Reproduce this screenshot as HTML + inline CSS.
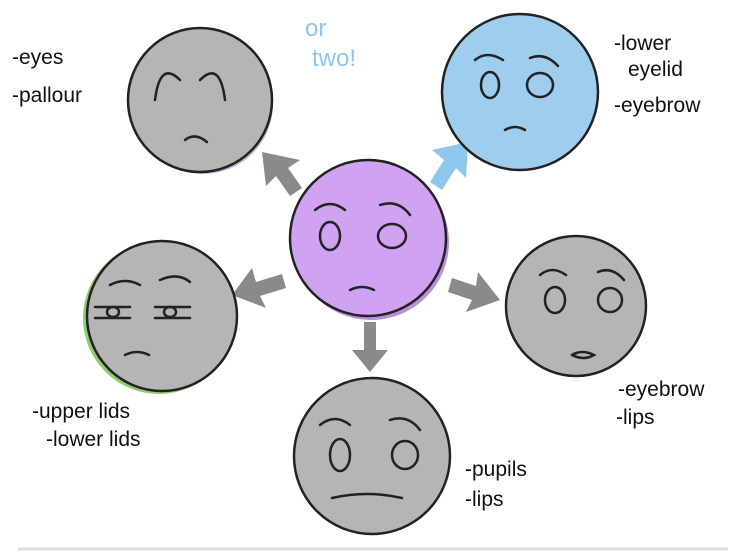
<!DOCTYPE html>
<html><head><meta charset="utf-8"><style>
html,body{margin:0;padding:0;background:#fff;width:738px;height:558px;overflow:hidden}
svg text{font-family:"Liberation Sans",sans-serif;fill:#111;font-size:21px}
</style></head><body>
<svg width="738" height="558" viewBox="0 0 738 558" xmlns="http://www.w3.org/2000/svg">
<g stroke="#222" stroke-width="2.5" fill="none" stroke-linecap="round">
<g fill="#8a8a8a" stroke="none">
<polygon points="262,152 300,160 288,168 302,188 290,196 276,176 266,186"/>
<polygon points="468,142 432,150 444,160 430,182 442,190 456,168 466,178" fill="#8ec6ec"/>
<polygon points="232,295 252,268 256,282 282,274 286,288 260,296 266,308"/>
<polygon points="500,300 478,272 476,286 452,278 448,292 472,300 466,312"/>
<polygon points="370,372 352,350 364,350 364,322 376,322 376,350 388,350"/>
</g>
<circle cx="203" cy="104" r="70" fill="#c7b0d8" stroke="none"/>
<circle cx="200" cy="100" r="72" fill="#b5b5b5"/>
<circle cx="520" cy="92" r="78" fill="#9fcdee"/>
<circle cx="371" cy="242" r="78" fill="#b890d8" stroke="none"/>
<circle cx="368" cy="238" r="78" fill="#d0a3f2"/>
<circle cx="159" cy="318" r="76" fill="#8fcc70" stroke="none"/>
<circle cx="162" cy="316" r="75" fill="#b5b5b5"/>
<circle cx="576" cy="306" r="70" fill="#b5b5b5"/>
<circle cx="372" cy="456" r="78" fill="#b5b5b5"/>
<path d="M155 100 q5-40 25-20"/><path d="M225 100 q-5-40-25-20"/>
<path d="M185 140 q10-8 22 2"/>
<ellipse cx="490" cy="85" rx="9" ry="13"/><ellipse cx="540" cy="85" rx="13" ry="12"/>
<path d="M475 60 q12-10 28 0"/><path d="M530 58 q15-6 28 8"/><path d="M505 130 q10-6 20 0"/>
<ellipse cx="330" cy="236" rx="10" ry="14"/><ellipse cx="392" cy="236" rx="14" ry="12"/>
<path d="M315 210 q15-12 30 0"/><path d="M380 205 q18-6 30 10"/><path d="M350 290 q12-6 24 0"/>
<path d="M95 307 h35"/><path d="M155 307 h35"/><path d="M95 318 h35"/><path d="M155 318 h35"/>
<ellipse cx="113" cy="312" rx="6" ry="5"/><ellipse cx="170" cy="312" rx="6" ry="5"/>
<path d="M110 285 q15-8 30 0"/><path d="M160 280 q18-8 30 2"/><path d="M125 355 q12-6 24 0"/>
<ellipse cx="555" cy="300" rx="10" ry="13"/><ellipse cx="610" cy="300" rx="12" ry="12"/>
<path d="M540 275 q12-10 26 0"/><path d="M598 272 q14-6 26 8"/><path d="M572 355 q10-6 22 0 q-10 6-22 0"/>
<ellipse cx="340" cy="455" rx="10" ry="16"/><ellipse cx="405" cy="455" rx="13" ry="14"/>
<path d="M320 425 q15-12 30 0"/><path d="M390 420 q18-6 30 10"/><path d="M332 498 q35-8 70 0"/>
</g>
<line x1="18" y1="549" x2="728" y2="549" stroke="#ddd" stroke-width="3"/>
<text x="12" y="64">-eyes</text>
<text x="12" y="102">-pallour</text>
<text x="305" y="36" style="fill:#8ec6ec;font-size:24px">or</text>
<text x="312" y="66" style="fill:#8ec6ec;font-size:24px">two!</text>
<text x="614" y="50">-lower</text>
<text x="628" y="76">eyelid</text>
<text x="614" y="112">-eyebrow</text>
<text x="32" y="418">-upper lids</text>
<text x="46" y="446">-lower lids</text>
<text x="618" y="396">-eyebrow</text>
<text x="616" y="424">-lips</text>
<text x="465" y="476">-pupils</text>
<text x="465" y="506">-lips</text>
</svg>
</body></html>
